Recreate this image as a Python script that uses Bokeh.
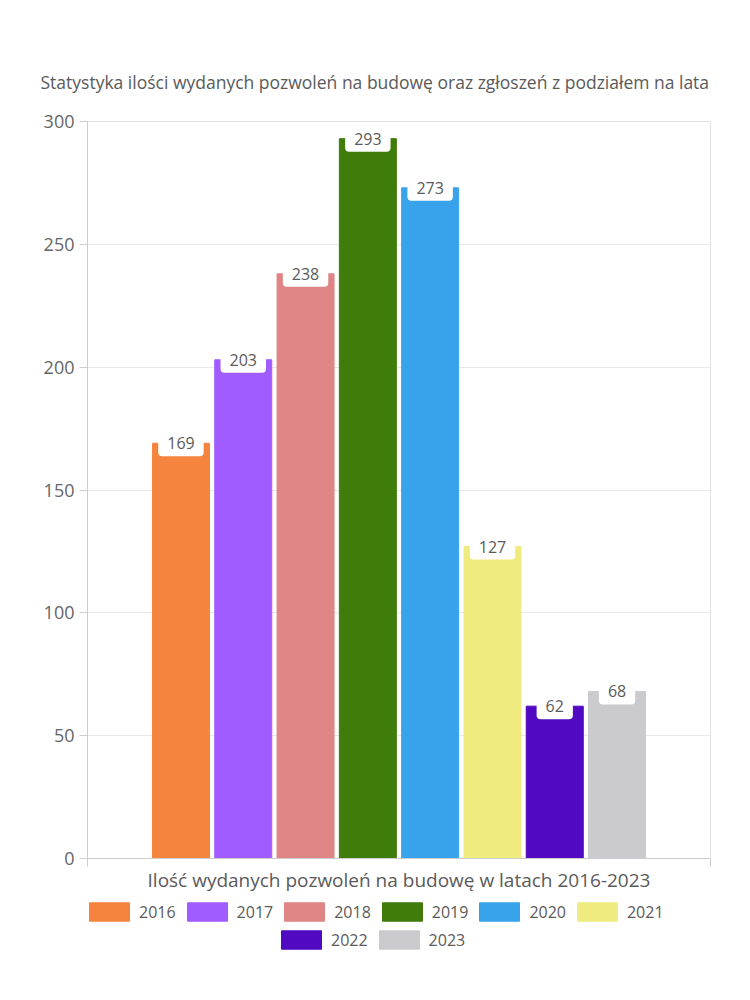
from bokeh.plotting import figure
from bokeh.layouts import column
from bokeh.models import Range1d, FixedTicker, Legend, LegendItem, ColumnDataSource
from bokeh.embed import file_html
from bokeh.resources import INLINE
from bokeh.core.properties import value

years = ["2016", "2017", "2018", "2019", "2020", "2021", "2022", "2023"]
counts = [169, 203, 238, 293, 273, 127, 62, 68]
colors = ["#F5843F", "#A15CFF", "#E08585", "#3F7C0A", "#38A3EB", "#F0EB7F", "#5209C2", "#CACACF"]
title_text = "Statystyka ilości wydanych pozwoleń na budowę oraz zgłoszeń z podziałem na lata"
x_label = "Ilość wydanych pozwoleń na budowę w latach 2016-2023"
y_ticks = [0, 50, 100, 150, 200, 250, 300]

FONT = "Open Sans"
TXT = "#5a5a5a"

p = figure(frame_width=623, frame_height=737, x_range=Range1d(0, 10), y_range=Range1d(0, 300),
           output_backend="svg", toolbar_location=None,
           min_border_left=87, min_border_right=40, min_border_top=121, min_border_bottom=42)
p.outline_line_color = "#e2e2e2"

# title
p.title.text = title_text
p.title.align = "left"
p.title.offset = -47
p.title.text_font = FONT
p.title.text_font_size = "17.5px"
p.title.text_font_style = "normal"
p.title.text_color = TXT
p.title.standoff = 56

# axes
p.yaxis.ticker = FixedTicker(ticks=y_ticks)
p.yaxis.axis_line_color = "#cccccc"
p.yaxis.major_tick_line_color = "#cccccc"
p.yaxis.major_tick_out = 8
p.yaxis.major_tick_in = 0
p.yaxis.minor_tick_line_color = None
p.yaxis.major_label_text_font = FONT
p.yaxis.major_label_text_font_size = "18px"
p.yaxis.major_label_text_color = "#666666"
p.yaxis.major_label_standoff = 5

p.xaxis.ticker = FixedTicker(ticks=[0, 10])
p.xaxis.major_label_overrides = {0: "", 10: ""}
p.xaxis.axis_line_color = "#cccccc"
p.xaxis.major_tick_line_color = "#cccccc"
p.xaxis.major_tick_out = 8
p.xaxis.major_tick_in = 0
p.xaxis.minor_tick_line_color = None
p.xaxis.axis_label = x_label
p.xaxis.axis_label_text_font = FONT
p.xaxis.axis_label_text_font_size = "19px"
p.xaxis.axis_label_text_font_style = "normal"
p.xaxis.axis_label_text_color = TXT
p.xaxis.axis_label_standoff = 0

p.xgrid.grid_line_color = None
p.ygrid.grid_line_color = "#e8e8e8"
p.ygrid.ticker = FixedTicker(ticks=y_ticks)

xs = [1.5 + i for i in range(len(years))]
for i, (c, col) in enumerate(zip(counts, colors)):
    src = ColumnDataSource(dict(x=[xs[i]], top=[c]))
    p.vbar(x="x", top="top", width=0.915, color=col, source=src)

lab_src = ColumnDataSource(dict(x=xs, y=counts, label=[str(c) for c in counts]))
p.text(x="x", y="y", text="label", source=lab_src, text_align="center", text_baseline="middle",
       text_font=value(FONT), text_font_size="16px", text_color=TXT,
       background_fill_color="white", padding=(9, 7), border_radius=4)

# legend figure (its frame is aligned with the chart frame by the column layout)
lf = figure(width=750, height=100, x_range=Range1d(0, 1), y_range=Range1d(0, 1),
            output_backend="svg", toolbar_location=None, min_border=0)
lf.axis.visible = False
lf.grid.grid_line_color = None
lf.outline_line_color = None
leg_renderers = []
for col in colors:
    # swatch renderer kept outside the visible range; only its legend glyph shows
    r = lf.vbar(x=[0.5], bottom=[-3], top=[-2], width=0.1, color=col)
    leg_renderers.append(r)

items1 = [LegendItem(label=years[i], renderers=[leg_renderers[i]]) for i in range(6)]
items2 = [LegendItem(label=years[i], renderers=[leg_renderers[i]]) for i in range(6, 8)]
for items, loc in ((items1, (-3, 77)), (items2, (189, 49))):
    lg = Legend(items=items, orientation="horizontal", location=loc,
                glyph_width=50, glyph_height=23, label_standoff=5, spacing=6,
                padding=0, margin=0, border_line_color=None, background_fill_alpha=0,
                label_text_font=FONT, label_text_font_size="16px", label_text_color=TXT,
                label_height=20)
    lf.add_layout(lg, "center")

layout = column(p, lf, spacing=0)
open("out.html", "w").write(file_html(layout, INLINE))
